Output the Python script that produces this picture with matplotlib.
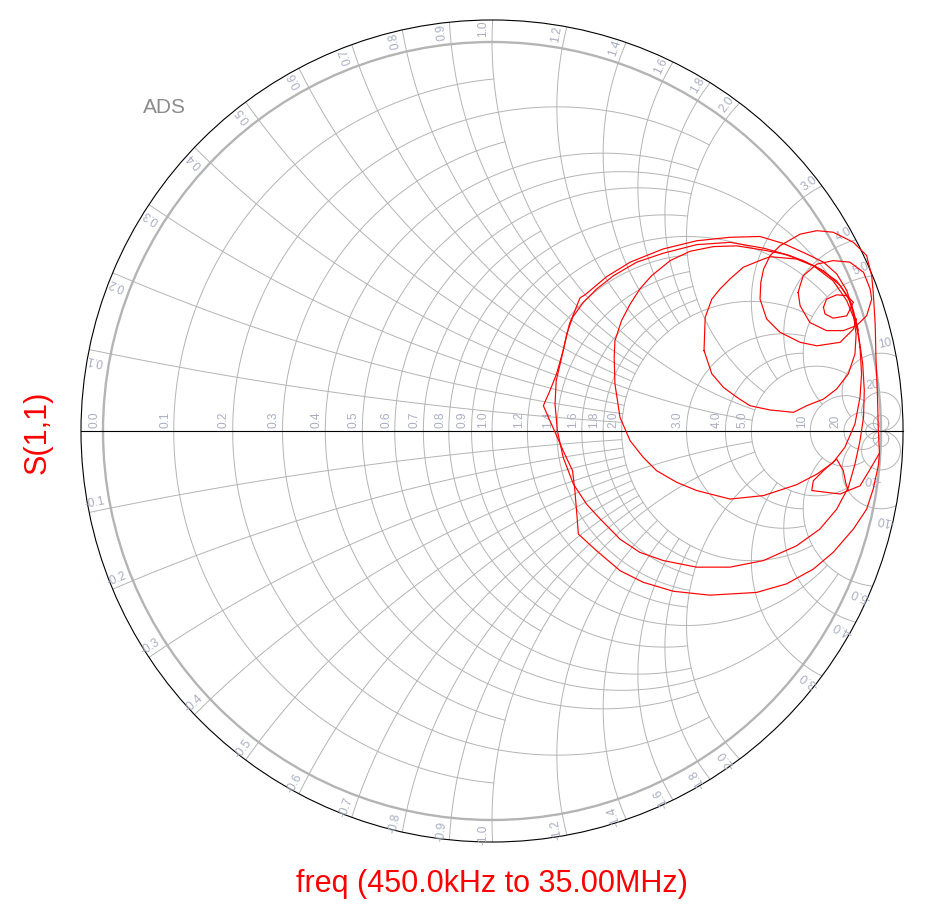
import numpy as np
import matplotlib
matplotlib.use("Agg")
import matplotlib.pyplot as plt
from matplotlib.patches import Circle

seg_a_re = [0.937, 0.929, 0.895, 0.835, 0.792, 0.740, 0.706, 0.689, 0.691, 0.698, 0.715, 0.740,
            0.792, 0.835, 0.877, 0.929, 0.963, 0.976, 0.980, 0.985, 0.987, 0.991, 0.993, 0.996,
            0.972, 0.946, 0.916, 0.895, 0.822, 0.826, 0.852, 0.886, 0.903, 0.910, 0.916]
seg_a_im = [0.288, 0.262, 0.228, 0.219, 0.228, 0.254, 0.288, 0.339, 0.382, 0.416, 0.451, 0.476,
            0.506, 0.515, 0.511, 0.485, 0.451, 0.399, 0.356, 0.275, 0.189, 0.087, 0.005, -0.057,
            -0.098, -0.141, -0.153, -0.162, -0.153, -0.128, -0.102, -0.072, -0.102, -0.136, -0.153]

seg_b_re = [0.996, 0.993, 0.980, 0.963, 0.929, 0.877, 0.826, 0.757, 0.680, 0.560, 0.466, 0.389,
            0.329, 0.269, 0.222, 0.218, 0.213, 0.207, 0.183, 0.162, 0.145, 0.132, 0.149, 0.166,
            0.183, 0.199, 0.213, 0.226, 0.239, 0.295, 0.355, 0.440, 0.526, 0.612, 0.689, 0.749,
            0.809, 0.852, 0.886, 0.912, 0.929, 0.942]
seg_b_im = [-0.057, -0.089, -0.149, -0.201, -0.252, -0.312, -0.355, -0.393, -0.415, -0.422, -0.412, -0.389,
            -0.359, -0.308, -0.265, -0.213, -0.153, -0.102, -0.051, -0.003, 0.035, 0.065, 0.104, 0.147,
            0.207, 0.275, 0.309, 0.342, 0.350, 0.397, 0.434, 0.468, 0.489, 0.498, 0.500, 0.482,
            0.455, 0.434, 0.404, 0.361, 0.309, 0.258]

seg_c_re = [0.942, 0.953, 0.957, 0.955, 0.946, 0.933, 0.916, 0.886, 0.843, 0.783, 0.698, 0.612,
            0.526, 0.440, 0.380, 0.329, 0.278, 0.243, 0.209, 0.183, 0.168, 0.162, 0.165, 0.179,
            0.192, 0.207, 0.235, 0.269, 0.312, 0.372, 0.440, 0.526, 0.612, 0.698, 0.766, 0.826,
            0.877, 0.912, 0.931, 0.942]
seg_c_im = [0.249, 0.172, 0.104, 0.035, -0.025, -0.085, -0.145, -0.201, -0.252, -0.295, -0.333, -0.350,
            -0.350, -0.333, -0.312, -0.278, -0.226, -0.188, -0.136, -0.068, 0.001, 0.069, 0.129, 0.189,
            0.249, 0.292, 0.331, 0.365, 0.399, 0.434, 0.457, 0.479, 0.485, 0.470, 0.451, 0.425,
            0.386, 0.335, 0.288, 0.249]

seg_d_re = [0.946, 0.950, 0.946, 0.933, 0.907, 0.877, 0.835, 0.783, 0.698, 0.612, 0.526, 0.475,
            0.423, 0.389, 0.355, 0.329, 0.316, 0.314, 0.316, 0.333, 0.355, 0.380, 0.410, 0.458,
            0.509, 0.569, 0.629, 0.698, 0.749, 0.800, 0.852, 0.895, 0.922, 0.937, 0.946]
seg_d_im = [0.215, 0.147, 0.087, 0.018, -0.042, -0.081, -0.111, -0.138, -0.166, -0.175, -0.153, -0.132,
            -0.102, -0.068, -0.025, 0.035, 0.121, 0.189, 0.232, 0.284, 0.326, 0.365, 0.399, 0.438,
            0.462, 0.474, 0.476, 0.465, 0.455, 0.438, 0.412, 0.374, 0.331, 0.275, 0.215]

seg_e_re = [0.545, 0.548, 0.565, 0.586, 0.612, 0.646, 0.698, 0.715, 0.783, 0.835, 0.886, 0.916,
            0.929, 0.936, 0.933, 0.916, 0.886, 0.852, 0.809, 0.775, 0.715, 0.663, 0.629, 0.595,
            0.565, 0.545]
seg_e_im = [0.207, 0.292, 0.339, 0.365, 0.391, 0.421, 0.442, 0.448, 0.442, 0.421, 0.386, 0.344,
            0.301, 0.249, 0.198, 0.147, 0.108, 0.082, 0.065, 0.048, 0.054, 0.065, 0.087, 0.112,
            0.147, 0.207]

seg_f_re = [0.787, 0.792, 0.817, 0.860, 0.903, 0.937, 0.963, 0.976, 0.972, 0.955, 0.920, 0.877,
            0.835, 0.800, 0.792, 0.787]
seg_f_im = [0.356, 0.322, 0.279, 0.258, 0.258, 0.271, 0.296, 0.339, 0.365, 0.408, 0.434, 0.438,
            0.429, 0.399, 0.374, 0.356]

seg_g_re = [0.852, 0.860, 0.886, 0.912, 0.929, 0.912, 0.877, 0.856, 0.852]
seg_g_im = [0.318, 0.339, 0.350, 0.348, 0.331, 0.296, 0.290, 0.301, 0.318]

segments = [(seg_a_re, seg_a_im), (seg_b_re, seg_b_im), (seg_c_re, seg_c_im),
            (seg_d_re, seg_d_im), (seg_e_re, seg_e_im), (seg_f_re, seg_f_im),
            (seg_g_re, seg_g_im)]

# ---------------- Smith chart grid values and labels
r_label_values = [0.1, 0.2, 0.3, 0.4, 0.5, 0.6, 0.7, 0.8, 0.9, 1.0, 1.2, 1.4, 1.6, 1.8, 2.0,
                  3.0, 4.0, 5.0, 10, 20]
x_label_values = [0.1, 0.2, 0.3, 0.4, 0.5, 0.6, 0.7, 0.8, 0.9, 1.0, 1.2, 1.4, 1.6, 1.8, 2.0,
                  3.0, 4.0, 5.0, 10, 20]
trace_label = "S(1,1)"
sweep_label = "freq (450.0kHz to 35.00MHz)"

# extent of each grid curve (None = full)
r_extent = {0.1: 1, 0.2: 2, 0.3: 1, 0.4: 2, 0.5: 5, 0.6: 2, 0.7: 1, 0.8: 2, 0.9: 1, 1.0: 5,
            1.2: 2, 1.4: 2, 1.6: 2, 1.8: 2, 2.0: 5, 3.0: 5, 4.0: 5, 5.0: 10, 10: 20,
            20: None, 50: None}
x_extent = {0.1: 2, 0.2: 2, 0.3: 2, 0.4: 2, 0.5: 5, 0.6: 2, 0.7: 2, 0.8: 2, 0.9: 2, 1.0: 5,
            1.2: 2, 1.4: 2, 1.6: 2, 1.8: 2, 2.0: 5, 3.0: 5, 4.0: 5, 5.0: 10, 10: 20,
            20: "full", 50: "full"}

R_OUT = 1.0566
GRID = "#b4b4b4"
LABEL = "#a9aec2"
TRACE = "#ff0000"
LFS = 8.6

plt.rcParams["font.family"] = ["Liberation Sans", "DejaVu Sans"]

fig = plt.figure(figsize=(9.34, 9.12), dpi=100)
ax = fig.add_axes([0, 0, 1, 1])
ax.set_xlim(-1.2648, 1.1362)
ax.set_ylim(-1.2339, 1.1105)
ax.set_aspect("equal", adjustable="box")
ax.axis("off")

clip = Circle((0, 0), R_OUT, transform=ax.transData)


def gam(z):
    return (z - 1) / (z + 1)


def draw_grid(pts, lw=0.7):
    ln, = ax.plot(pts.real, pts.imag, color=GRID, lw=lw, zorder=1)
    ln.set_clip_path(clip)


# resistance circles
for r, xmax in r_extent.items():
    c = r / (1 + r)
    rad = 1 / (1 + r)
    if xmax is None:
        t = np.linspace(0, 2 * np.pi, 400)
    else:
        a = np.angle(gam(r + 1j * xmax) - c)
        t = np.linspace(a, 2 * np.pi - a, 400)
    draw_grid(c + rad * np.exp(1j * t))

# reactance arcs (with their extension to the outer circle)
for xv, rmax in x_extent.items():
    for x in (xv, -xv):
        c = 1 + 1j / x
        rad = 1 / abs(x)
        if rmax == "full":
            t = np.linspace(0, 2 * np.pi, 300)
            draw_grid(c + rad * np.exp(1j * t))
            continue
        a = 1 - R_OUT ** 2
        b = -2 * (1 + R_OUT ** 2)
        cc = a * (1 + x * x)
        disc = np.sqrt(b * b - 4 * a * cc)
        r0 = max((-b + disc) / (2 * a), (-b - disc) / (2 * a))
        a0 = np.angle(gam(r0 + 1j * x) - c)
        a1 = np.angle(gam(rmax + 1j * x) - c)
        d = (a1 - a0) % (2 * np.pi)
        if x < 0:
            d -= 2 * np.pi
        t = np.linspace(a0, a0 + d, 300)
        draw_grid(c + rad * np.exp(1j * t))

# unit circle, outer circle, real axis
ax.add_patch(Circle((0, 0), 1.0, fill=False, ec=GRID, lw=1.7, zorder=2))
ax.add_patch(Circle((0, 0), R_OUT, fill=False, ec="black", lw=0.8, zorder=3))
ax.plot([-R_OUT, R_OUT], [0, 0], color="black", lw=0.8, zorder=3)

# resistance labels along the real axis
for r in [0.0] + r_label_values:
    xl = (r - 1) / (r + 1)
    txt = f"{r:.1f}" if r < 10 else f"{r:.0f}"
    ax.text(xl - 0.007, 0.010, txt, rotation=90, rotation_mode="anchor",
            ha="left", va="bottom", fontsize=LFS, color=LABEL, zorder=4)

# reactance labels around the rim
for xv in x_label_values:
    for sgn in (1, -1):
        x = sgn * xv
        g = gam(1j * x)
        th = np.angle(g)
        u = np.exp(1j * th)
        radial = 0.985 if xv == 20 else 1.036
        pos = radial * u + sgn * 0.022 * 1j * u
        rot = np.degrees(th) if sgn > 0 else np.degrees(th) + 180
        txt = (f"{xv:.1f}" if xv < 10 else f"{xv:.0f}")
        if sgn < 0:
            txt = "-" + txt
        ax.text(pos.real, pos.imag, txt, rotation=rot, rotation_mode="anchor",
                ha="center", va="center", fontsize=LFS, color=LABEL, zorder=4)

# trace
for re_, im_ in segments:
    ax.plot(re_, im_, color=TRACE, lw=0.85, zorder=5)

# titles
ax.text(-0.841, 0.833, "ADS", fontsize=15, color="#8c8c8c", ha="center", va="center")
ax.text(-1.167, 0.0, trace_label, rotation=90, fontsize=22, color=TRACE,
        ha="center", va="center")
ax.text(0.0, -1.163, sweep_label, fontsize=22, color=TRACE, ha="center", va="center")

fig.savefig("out.png", dpi=100)
